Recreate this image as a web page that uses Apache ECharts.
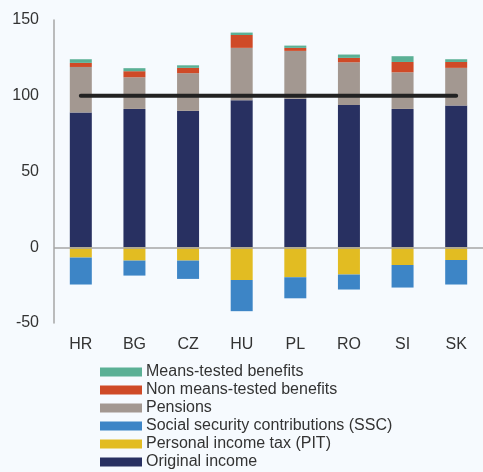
<!DOCTYPE html>
<html>
<head>
<meta charset="utf-8">
<style>
html,body{margin:0;padding:0;background:#F6FAFE;}
#chart{width:483px;height:472px;}
</style>
<script src="https://cdn.jsdelivr.net/npm/echarts@6/dist/echarts.min.js"></script>
</head>
<body>
<div id="chart"></div>
<script>
const categories = ['HR','BG','CZ','HU','PL','RO','SI','SK'];
const originalIncome = [88.9, 91.3, 90.0, 97.0, 98.1, 93.9, 91.3, 93.5];
const pensions = [30.1, 20.9, 24.9, 34.6, 31.5, 28.2, 24.2, 24.9];
const nonMeansTested = [2.7, 4.0, 3.5, 8.5, 2.0, 2.9, 6.8, 3.9];
const meansTested = [2.4, 2.0, 1.7, 1.6, 1.5, 2.2, 3.8, 1.8];
const pit = [-6.8, -8.8, -8.8, -21.6, -19.8, -18.0, -11.7, -8.4];
const ssc = [-17.8, -9.9, -12.1, -20.6, -13.9, -9.9, -14.9, -16.2];
const reference = [100, 100, 100, 100, 100, 100, 100, 100];
const yTicks = [-50, 0, 50, 100, 150];

const names = {
  mt: 'Means-tested benefits',
  nmt: 'Non means-tested benefits',
  pen: 'Pensions',
  ssc: 'Social security contributions (SSC)',
  pit: 'Personal income tax (PIT)',
  orig: 'Original income'
};

const chart = echarts.init(document.getElementById('chart'));
const barW = 22;
function bar(name, data, color) {
  return {
    name: name, type: 'bar', stack: 'total', data: data, barWidth: barW,
    itemStyle: {color: color}, emphasis: {disabled: true}
  };
}
chart.setOption({
  backgroundColor: '#F6FAFE',
  animation: false,
  textStyle: {fontFamily: 'Liberation Sans, Arial, sans-serif'},
  grid: {left: 54, top: 20, width: 436, height: 303},
  legend: {
    orient: 'vertical', left: 100, top: 363, height: 109, padding: 0,
    itemWidth: 42, itemHeight: 9, itemGap: 0,
    textStyle: {fontSize: 16, color: '#333', lineHeight: 18, padding: [0,0,0,-1]},
    data: [names.mt, names.nmt, names.pen, names.ssc, names.pit, names.orig].map(n => ({name: n, icon: 'rect'}))
  },
  xAxis: {
    type: 'category', data: categories,
    axisLine: {show: false, onZero: false},
    axisTick: {show: false},
    axisLabel: {fontSize: 16, color: '#333', margin: 14}
  },
  yAxis: {
    type: 'value', min: yTicks[0], max: yTicks[yTicks.length-1], interval: 50,
    axisLine: {show: true, lineStyle: {color: '#A6A6A6', width: 1.5}},
    axisTick: {show: false},
    splitLine: {show: false},
    axisLabel: {fontSize: 16, color: '#333', margin: 15}
  },
  series: [
    Object.assign(bar(names.orig, originalIncome, '#283061'), {
      markLine: {
        silent: true, symbol: 'none', label: {show: false},
        lineStyle: {color: '#A6A6A6', width: 1.5, type: 'solid'},
        data: [{yAxis: 0}]
      }
    }),
    bar(names.pit, pit, '#E2BC22'),
    bar(names.ssc, ssc, '#3D85C6'),
    bar(names.pen, pensions, '#A39891'),
    bar(names.nmt, nonMeansTested, '#CF4A27'),
    bar(names.mt, meansTested, '#5BB095'),
    {
      name: 'ref', type: 'line', data: reference, symbol: 'none',
      lineStyle: {color: '#222222', width: 4, cap: 'round'},
      z: 5, emphasis: {disabled: true}
    }
  ]
});
</script>
</body>
</html>
